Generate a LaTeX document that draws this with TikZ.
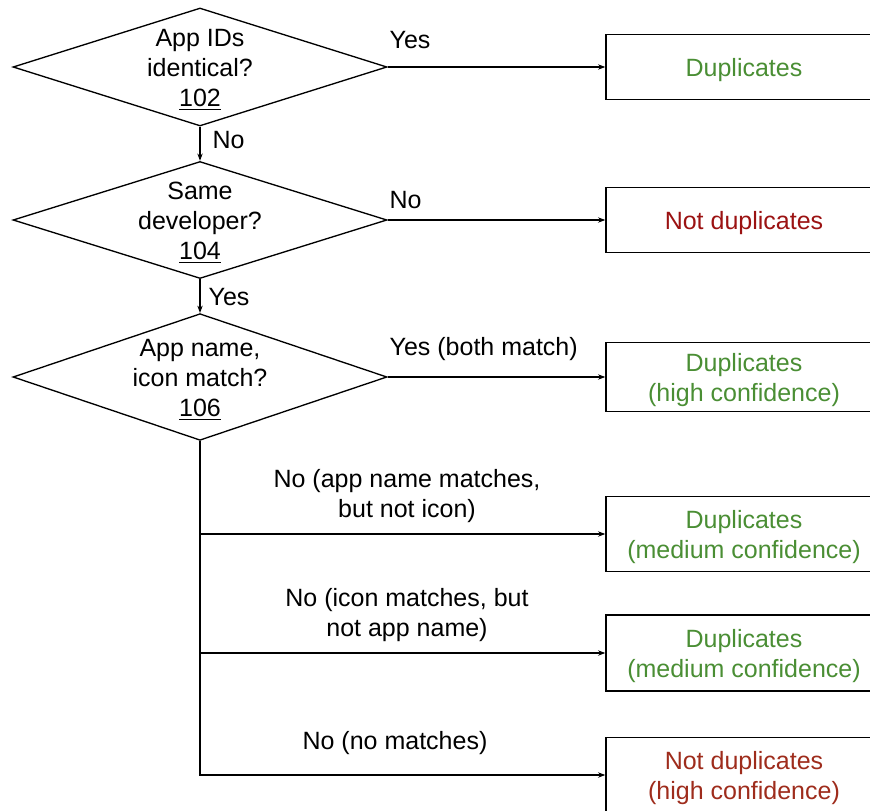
\documentclass[tikz,border=0pt]{standalone}
\usepackage{fontspec}
\setmainfont{Liberation Sans}
\usetikzlibrary{shapes.geometric,arrows.meta}

\definecolor{dupgreen}{RGB}{74,142,52}
\definecolor{notred}{RGB}{155,18,18}
\definecolor{notbrown}{RGB}{158,44,28}

\tikzset{every picture/.style={line width=1pt}}
\tikzset{
  decision/.style={draw, shape=diamond, inner sep=0pt, minimum width=280.5pt, minimum height=88.5pt},
  qtext/.style={align=center, inner sep=0pt, yshift=-2pt, font=\fontsize{18.75}{22.5}\selectfont},
  outcome/.style={draw, align=center, text depth=0pt, minimum width=207pt, minimum height=48.75pt, font=\fontsize{18.75}{22.5}\selectfont},
  branch/.style={align=center, inner sep=0pt, font=\fontsize{18.75}{22.5}\selectfont},
  flow/.style={-{Stealth[length=5.5pt,width=4pt]}}
}

\begin{document}
\begin{tikzpicture}[x=0.75pt,y=0.75pt,yscale=-1,xscale=1]
\path[use as bounding box] (0,0) rectangle (870,810);

%Shape: Diamond [id:dec1]
\node [decision] (dec1) at (200,67) {};
\node [qtext] (q1) at (dec1) {App IDs\\identical?\\\underline{102}};
%Shape: Diamond [id:dec2]
\node [decision, minimum height=87.75pt] (dec2) at (200,220) {};
\node [qtext] (q2) at (dec2) {Same\\developer?\\\underline{104}};
%Shape: Diamond [id:dec3]
\node [decision, minimum height=95pt] (dec3) at (200,377) {};
\node [qtext] (q3) at (dec3) {App name,\\icon match?\\\underline{106}};

%Shape: Rectangle [id:out1]
\node [outcome, text=dupgreen] (out1) at (744,67) {Duplicates};
%Shape: Rectangle [id:out2]
\node [outcome, text=notred] (out2) at (744,220) {Not duplicates};
%Shape: Rectangle [id:out3]
\node [outcome, text=dupgreen, minimum height=52pt] (out3) at (744,377) {Duplicates\\(high confidence)};
%Shape: Rectangle [id:out4]
\node [outcome, text=dupgreen, minimum height=56pt] (out4) at (744,534) {Duplicates\\(medium confidence)};
%Shape: Rectangle [id:out5]
\node [outcome, text=dupgreen, minimum height=57pt] (out5) at (744,653) {Duplicates\\(medium confidence)};
%Shape: Rectangle [id:out6]
\node [outcome, text=notbrown, minimum height=56pt] (out6) at (744,775) {Not duplicates\\(high confidence)};

%Straight Lines
\draw [flow] (dec1.east) -- (out1.west);
\draw [flow] (dec1.south) -- (dec2.north);
\draw [flow] (dec2.east) -- (out2.west);
\draw [flow] (dec2.south) -- (dec3.north);
\draw [flow] (dec3.east) -- (out3.west);
\draw [flow] (dec3.south) |- (out6.west);
\draw [flow] (dec3.south |- out4.west) -- (out4.west);
\draw [flow] (dec3.south |- out5.west) -- (out5.west);

% Text Node
\node [branch, anchor=west] (yes1) at (389,40) {Yes};
% Text Node
\node [branch, anchor=west] (no1) at (212,140) {No};
% Text Node
\node [branch, anchor=west] (no2) at (389,200) {No};
% Text Node
\node [branch, anchor=west] (yes2) at (208,297) {Yes};
% Text Node
\node [branch, anchor=west] (yes3) at (389,349) {Yes (both match)};
% Text Node
\node [branch] (no3) at (407,496) {No (app name matches,\\but not icon)};
% Text Node
\node [branch] (no4) at (407,615) {No (icon matches, but\\not app name)};
% Text Node
\node [branch] (no5) at (395,743) {No (no matches)};

\end{tikzpicture}
\end{document}
